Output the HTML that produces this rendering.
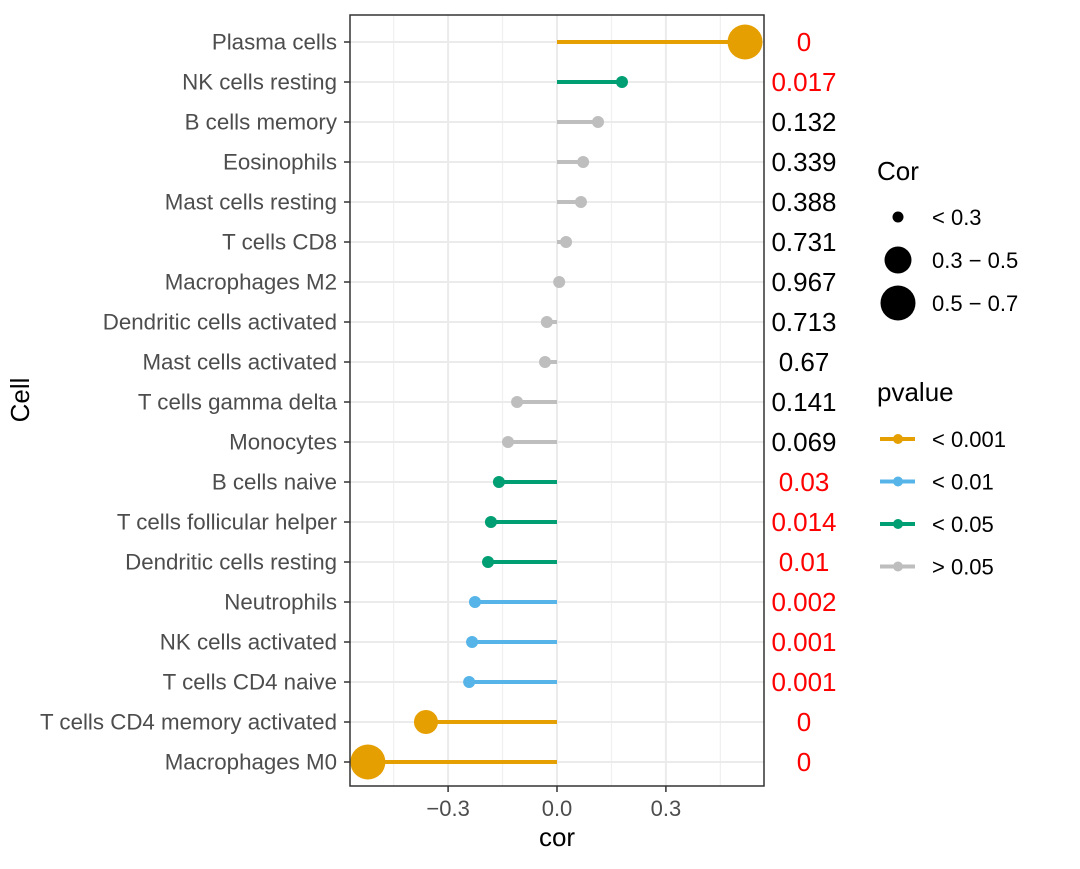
<!DOCTYPE html>
<html><head><meta charset="utf-8"><style>
body{margin:0;background:#fff;}
svg text{font-family:"Liberation Sans",Arial,sans-serif;}
</style></head><body>
<svg id="chart" width="1080" height="864" xmlns="http://www.w3.org/2000/svg">
<g id="grid"></g><g id="marks"></g><g id="axes"></g>
<text x="557" y="846" font-size="26" text-anchor="middle">cor</text>
<text transform="translate(29,400) rotate(-90)" font-size="26" text-anchor="middle">Cell</text>
<g>
<text x="877" y="180" font-size="26">Cor</text>
<circle cx="898" cy="217" r="5.5" fill="#000"/>
<text x="932" y="225" font-size="22">&lt; 0.3</text>
<circle cx="898" cy="260" r="13.5" fill="#000"/>
<text x="932" y="268" font-size="22">0.3 − 0.5</text>
<circle cx="898" cy="303" r="17.5" fill="#000"/>
<text x="932" y="311" font-size="22">0.5 − 0.7</text>
</g>
<g id="plegend">
<text x="877" y="401" font-size="26">pvalue</text>
</g>
</svg>
<script>
const cells=["Plasma cells","NK cells resting","B cells memory","Eosinophils","Mast cells resting","T cells CD8","Macrophages M2","Dendritic cells activated","Mast cells activated","T cells gamma delta","Monocytes","B cells naive","T cells follicular helper","Dendritic cells resting","Neutrophils","NK cells activated","T cells CD4 naive","T cells CD4 memory activated","Macrophages M0"];
const cors=[0.518,0.179,0.113,0.072,0.066,0.025,0.006,-0.028,-0.033,-0.11,-0.135,-0.16,-0.182,-0.19,-0.226,-0.234,-0.242,-0.361,-0.521];
const pvals=["0","0.017","0.132","0.339","0.388","0.731","0.967","0.713","0.67","0.141","0.069","0.03","0.014","0.01","0.002","0.001","0.001","0","0"];
const xTicks=[-0.3,0,0.3];
const xTickLabels=["−0.3","0.0","0.3"];
const xMinor=[-0.45,-0.15,0.15,0.45];
const ns="http://www.w3.org/2000/svg";
const L=350,R=764,T=15,B=786;
const x=v=>557+v*363;
const y=i=>42+i*40;
function mk(tag,attrs,parent,txt){const e=document.createElementNS(ns,tag);for(const k in attrs)e.setAttribute(k,attrs[k]);if(txt!==undefined)e.textContent=txt;parent.appendChild(e);return e;}
function pcol(p){const v=parseFloat(p);return v<0.001?"#E69F00":v<0.01?"#56B4E9":v<0.05?"#009E73":"#BEBEBE";}
function rad(c){const a=Math.abs(c);return a<0.3?6:a<0.5?12:17.5;}
const grid=document.getElementById('grid'),marks=document.getElementById('marks'),axes=document.getElementById('axes');
xMinor.forEach(v=>{const g=mk('line',{x1:x(v),x2:x(v),y1:T,y2:B,stroke:'#f0f0f0','stroke-width':1.2},grid);

});
xTicks.forEach((v,k)=>{const g=mk('line',{x1:x(v),x2:x(v),y1:T,y2:B,stroke:'#ebebeb','stroke-width':2},grid);


const t=mk('line',{x1:x(v),x2:x(v),y1:B,y2:B+6,stroke:'#333','stroke-width':1.5},axes);


const l=mk('text',{x:x(v),y:B+30,'font-size':22,fill:'#4d4d4d','text-anchor':'middle'},axes,xTickLabels[k]);

});
cells.forEach((c,i)=>{const g=mk('line',{x1:L,x2:R,y1:y(i),y2:y(i),stroke:'#ebebeb','stroke-width':2},grid);


const col=pcol(pvals[i]);
const s=mk('line',{x1:x(0),x2:x(cors[i]),y1:y(i),y2:y(i),stroke:col,'stroke-width':4},marks);


const d=mk('circle',{cx:x(cors[i]),cy:y(i),r:rad(cors[i]),fill:col},marks);


const t=mk('line',{x1:L-6,x2:L,y1:y(i),y2:y(i),stroke:'#333','stroke-width':1.5},axes);


const l=mk('text',{x:L-13,y:y(i)+7.5,'font-size':22.3,fill:'#4d4d4d','text-anchor':'end'},axes,c);


const p=mk('text',{x:804,y:y(i)+9,'font-size':26,fill:parseFloat(pvals[i])<0.05?'#ff0000':'#000','text-anchor':'middle'},axes,pvals[i]);

});
const fr=mk('rect',{x:L,y:T,width:R-L,height:B-T,fill:'none',stroke:'#333','stroke-width':1.5},axes);


const pl=document.getElementById('plegend');
const legCols=["#E69F00","#56B4E9","#009E73","#BEBEBE"],legLabs=["< 0.001","< 0.01","< 0.05","> 0.05"];
legCols.forEach((c,k)=>{const yy=439+k*42.5;
const ln=mk('line',{x1:880,x2:915,y1:yy,y2:yy,stroke:c,'stroke-width':4},pl);


const ci=mk('circle',{cx:898,cy:yy,r:5,fill:c},pl);


const tx=mk('text',{x:932,y:yy+8,'font-size':22},pl,legLabs[k]);

});
</script>
</body></html>
